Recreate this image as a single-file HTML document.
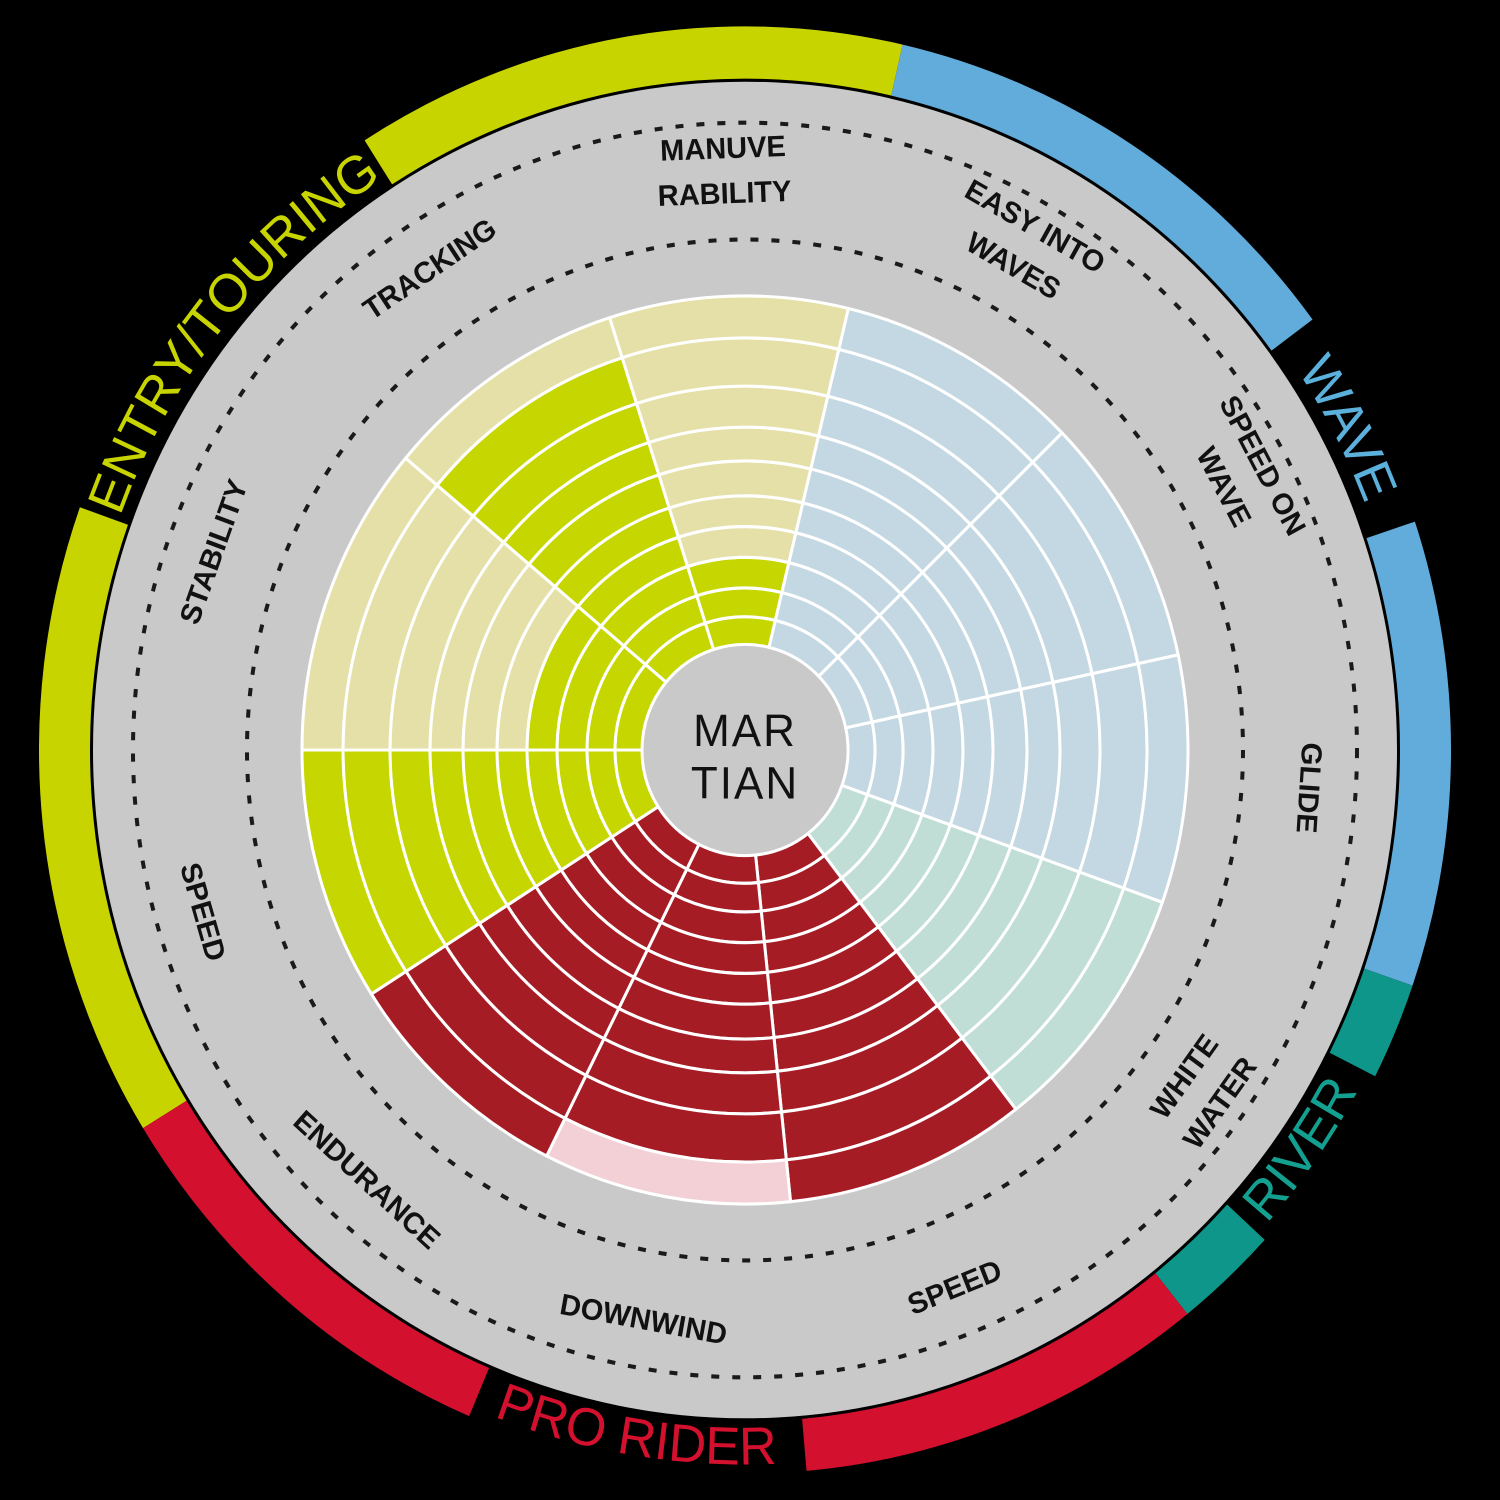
<!DOCTYPE html>
<html><head><meta charset="utf-8"><style>
html,body{margin:0;padding:0;background:#000;}
svg{display:block;}
</style></head><body>
<svg id="chart" width="1500" height="1500" viewBox="0 0 1500 1500" xmlns="http://www.w3.org/2000/svg">
<rect width="1500" height="1500" fill="#000"/>
<g id="root" transform="translate(745,750) scale(1,1.025)"></g>
</svg>
<script>
// ---- data ----
const categories = ["MANUVE|RABILITY","EASY  INTO|WAVES","SPEED ON|WAVE","GLIDE","WHITE|WATER","SPEED","DOWNWIND","ENDURANCE","SPEED","STABILITY","TRACKING"];
const values = [3,0,0,0,0,10,9,10,10,4,9];
const groups = ["entry","wave","wave","wave","river","pro","pro","pro","entry","entry","entry"];
const maxLevel = 10;
const segmentNames = ["ENTRY/TOURING","WAVE","RIVER","PRO RIDER"];

// ---- geometry / style ----
const NS="http://www.w3.org/2000/svg";
const root=document.getElementById('root');
const sectorEdges=[-17.8,13.5,45.7,77.9,109.6,142.3,174.1,206.6,237.5,270,310,342.2];
const levelR=[103,130,158,188,218,248,282,315,355,402,443];
const fillCol={entry:"#c5d600",wave:"#5fa8d6",river:"#129a8c",pro:"#a61c25"};
const tintCol={entry:"#e5e0a7",wave:"#c3d8e2",river:"#c0ddd6",pro:"#f2d0d6"};
function rScale(level){const i=Math.floor(level);if(i>=maxLevel)return levelR[maxLevel];const f=level-i;return levelR[i]+(levelR[i+1]-levelR[i])*f;}
function pt(a,r){const t=a*Math.PI/180;return [r*Math.sin(t),-r*Math.cos(t)];}
function annular(a1,a2,r1,r2){const p1=pt(a1,r2),p2=pt(a2,r2),p3=pt(a2,r1),p4=pt(a1,r1);const lg=(a2-a1)>180?1:0;
return `M${p1[0]},${p1[1]} A${r2},${r2} 0 ${lg} 1 ${p2[0]},${p2[1]} L${p3[0]},${p3[1]} A${r1},${r1} 0 ${lg} 0 ${p4[0]},${p4[1]} Z`;}
function mk(tag,attrs,parent){const e=document.createElementNS(NS,tag);for(const k in attrs)e.setAttribute(k,attrs[k]);(parent||root).appendChild(e);return e;}

// grey disk
const disk=mk('circle',{r:652,fill:"#c9c9c9"});



// outer ring segments
const ringSegs=[[238.5,289.6,"#c8d400"],[327.4,372.9,"#c8d400"],[12.9,53.5,"#62acdb"],[71.6,109,"#62acdb"],[109,116.8,"#0f968a"],[132.6,141.2,"#0f968a"],[141.2,175,"#d4102f"],[203,238.5,"#d4102f"]];
ringSegs.forEach(s=>{const p=mk('path',{d:annular(s[0],s[1],655,706),fill:s[2]});

});

// ring labels
const ringLabels=[[290.5,326.5,"#c8d400",true,665],[54,71,"#5bb0dc",true,665],[133,117,"#14a090",false,697],[203,175.5,"#d4102f",false,697]];
const defs=mk('defs',{});
ringLabels.forEach((L,i)=>{const a1=L[0],a2=L[1],r=L[4];const p1=pt(a1,r),p2=pt(a2,r);
mk('path',{id:'rp'+i,d:`M${p1[0]},${p1[1]} A${r},${r} 0 0 ${L[3]?1:0} ${p2[0]},${p2[1]}`,fill:"none"},defs);
const t=mk('text',{fill:L[2],'font-family':'"Liberation Sans", sans-serif','font-size':52,'text-anchor':'middle'});


const tp=mk('textPath',{href:'#rp'+i,startOffset:'50%'},t);tp.textContent=segmentNames[i];});

// dashed guide circles
[498,612].forEach(r=>{const c=mk('circle',{r:r,fill:'none',stroke:'#1a1a1a','stroke-width':4,'stroke-dasharray':'8 13'});

});

// sectors
categories.forEach((cat,i)=>{const a1=sectorEdges[i],a2=sectorEdges[i+1],g=groups[i];
for(let l=0;l<maxLevel;l++){const filled=l<values[i];
const c=mk('path',{d:annular(a1,a2,rScale(l),rScale(l+1)),fill:filled?fillCol[g]:tintCol[g],stroke:'#fff','stroke-width':3,'stroke-linejoin':'round'});

}
});

// sector labels
categories.forEach((cat,i)=>{const a=(sectorEdges[i]+sectorEdges[i+1])/2;const flip=a>100&&a<260;const lines=cat.split('|');
const n=lines.length;
lines.forEach((ln,j)=>{let off=(n-1)/2-j;const r=565+(flip?-off:off)*44;const p=pt(a,r);const rot=flip?a-180:a;
const t=mk('text',{x:p[0],y:p[1],transform:`rotate(${rot} ${p[0]} ${p[1]})`,'text-anchor':'middle','dominant-baseline':'central','font-family':'"Liberation Sans", sans-serif','font-weight':'bold','font-size':29,fill:'#111','xml:space':'preserve'});


t.textContent=ln;});});

// center
const cc=mk('circle',{r:100,fill:'#c9c9c9'});


["MAR","TIAN"].forEach((s,j)=>{const t=mk('text',{x:0,y:j?33:-18,'text-anchor':'middle','dominant-baseline':'central','font-family':'"Liberation Sans", sans-serif','font-size':44,fill:'#111','letter-spacing':2});


t.textContent=s;});
</script>
</body></html>
